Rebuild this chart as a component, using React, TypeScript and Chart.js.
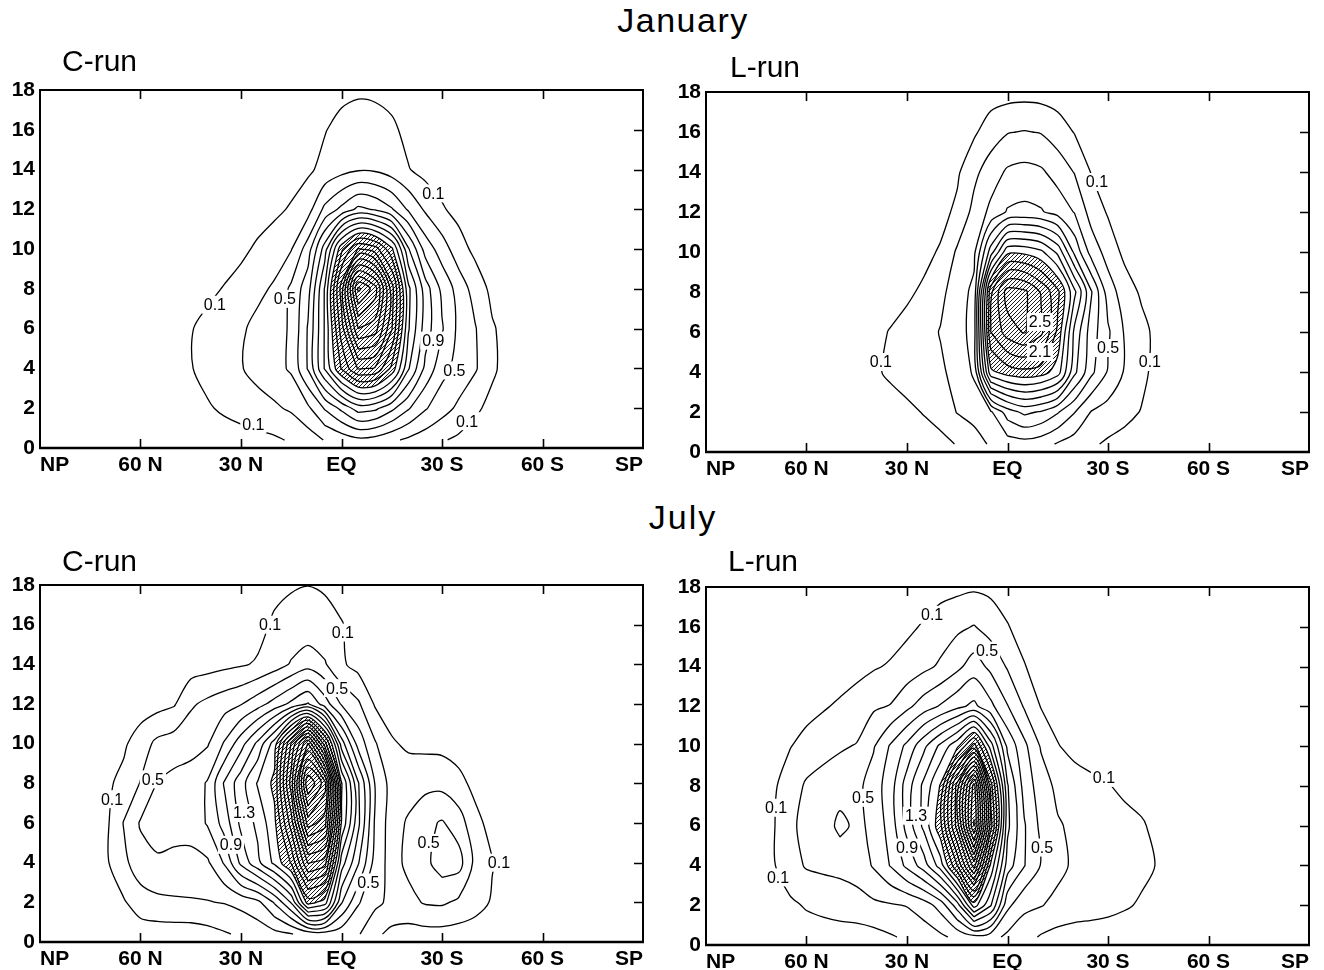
import React, { useEffect, useRef } from 'react';
import { Chart, registerables } from 'chart.js';

Chart.register(...registerables);
Chart.defaults.font.family = '"Liberation Sans", Arial, sans-serif';

// ---------- grid axes (latitude columns, height rows in km) ----------
const latitudes = [75, 70, 65, 60, 55, 50, 45, 40, 35, 30, 25, 20, 15, 10, 5, 0, -5, -10, -15, -20, -25, -30, -35, -40, -45, -50, -55];
const heights = [0.4, 2, 4, 6, 8, 10, 12, 14, 16, 18];
const contourLevels = [0.1, 0.3, 0.5, 0.7, 0.9, 1.1, 1.3, 1.5, 1.7, 1.9, 2.1, 2.3, 2.5, 2.7, 2.9, 3.1, 3.3, 3.5, 3.7, 3.9, 4.1, 4.3];
const hatchLevel = 1.9;
const latTicks = [90, 60, 30, 0, -30, -60, -90];
const latTickLabels = ['NP', '60 N', '30 N', 'EQ', '30 S', '60 S', 'SP'];
const heightTicks = [0, 2, 4, 6, 8, 10, 12, 14, 16, 18];

// ---------- January, C-run (rows = heights, cols = latitudes) ----------
const janCRun = [
  [0,0,0,0,0,0,0,0,0.01,0.02,0.04,0.07,0.12,0.2,0.31,0.38,0.45,0.42,0.34,0.26,0.19,0.12,0.06,0.02,0,0,0],
  [0,0,0,0,0,0.01,0.03,0.08,0.13,0.18,0.23,0.27,0.33,0.46,0.72,0.95,1.2,1.15,0.95,0.72,0.52,0.38,0.26,0.13,0.05,0.01,0],
  [0,0,0,0,0.01,0.03,0.09,0.16,0.22,0.29,0.36,0.43,0.53,0.92,1.52,2.12,2.52,2.48,2.05,1.32,0.85,0.57,0.43,0.32,0.13,0.03,0],
  [0,0,0,0,0.01,0.03,0.09,0.15,0.21,0.27,0.36,0.44,0.52,0.92,1.52,2.4,3.3,3.2,2.52,1.52,1.0,0.72,0.45,0.31,0.12,0.03,0],
  [0,0,0,0,0,0.01,0.02,0.06,0.11,0.17,0.25,0.33,0.54,0.82,1.52,2.6,3.95,3.6,2.6,1.55,1.0,0.65,0.42,0.21,0.05,0.01,0],
  [0,0,0,0,0,0,0,0.01,0.02,0.06,0.13,0.2,0.29,0.6,1.2,2.05,2.52,2.4,1.95,1.12,0.62,0.4,0.18,0.05,0.01,0,0],
  [0,0,0,0,0,0,0,0,0,0.01,0.02,0.06,0.12,0.22,0.55,0.75,0.95,0.88,0.72,0.47,0.27,0.12,0.04,0.01,0,0,0],
  [0,0,0,0,0,0,0,0,0,0,0,0.01,0.02,0.07,0.15,0.23,0.28,0.27,0.2,0.11,0.03,0.01,0,0,0,0,0],
  [0,0,0,0,0,0,0,0,0,0,0,0,0.01,0.02,0.09,0.16,0.2,0.19,0.14,0.04,0.01,0,0,0,0,0,0],
  [0,0,0,0,0,0,0,0,0,0,0,0,0,0,0.02,0.05,0.07,0.06,0.03,0.01,0,0,0,0,0,0,0],
];

// ---------- January, L-run ----------
const janLRun = [
  [0,0,0,0,0,0,0,0,0,0,0.02,0.05,0.11,0.2,0.33,0.4,0.42,0.38,0.28,0.2,0.13,0.07,0.03,0,0,0,0],
  [0,0,0,0,0,0,0,0,0.02,0.06,0.11,0.17,0.31,0.38,0.47,0.8,0.95,0.88,0.72,0.51,0.29,0.22,0.16,0.09,0.03,0,0],
  [0,0,0,0,0,0,0.02,0.07,0.13,0.18,0.22,0.27,0.36,0.53,1.85,2.0,2.05,2.0,1.8,1.15,0.75,0.48,0.28,0.15,0.03,0,0],
  [0,0,0,0,0,0,0.01,0.05,0.11,0.16,0.23,0.31,0.38,0.6,2.3,2.6,2.72,2.55,2.05,1.25,0.8,0.53,0.28,0.16,0.04,0,0],
  [0,0,0,0,0,0,0,0.01,0.02,0.07,0.13,0.25,0.4,0.55,2.25,2.8,2.75,2.48,2.15,1.55,0.92,0.4,0.2,0.07,0.01,0,0],
  [0,0,0,0,0,0,0,0,0,0.01,0.05,0.12,0.33,0.45,1.2,1.85,1.85,1.75,1.45,0.85,0.42,0.22,0.05,0,0,0,0],
  [0,0,0,0,0,0,0,0,0,0,0.01,0.04,0.14,0.36,0.55,0.72,0.75,0.72,0.62,0.49,0.22,0.08,0.01,0,0,0,0],
  [0,0,0,0,0,0,0,0,0,0,0,0.01,0.07,0.25,0.4,0.53,0.56,0.53,0.42,0.29,0.09,0.01,0,0,0,0,0],
  [0,0,0,0,0,0,0,0,0,0,0,0,0.01,0.07,0.2,0.29,0.31,0.29,0.2,0.09,0.01,0,0,0,0,0,0],
  [0,0,0,0,0,0,0,0,0,0,0,0,0,0,0.01,0.02,0.03,0.02,0,0,0,0,0,0,0,0,0],
];

// ---------- July, C-run ----------
const julCRun = [
  [0,0,0,0,0,0,0,0.03,0.08,0.13,0.18,0.24,0.29,0.38,0.42,0.38,0.32,0.14,0.05,0.03,0.03,0.03,0.02,0,0,0,0],
  [0,0.02,0.08,0.2,0.25,0.27,0.28,0.29,0.31,0.36,0.45,0.72,1.12,2.0,1.8,0.92,0.52,0.35,0.25,0.24,0.32,0.33,0.26,0.18,0.08,0.02,0],
  [0.02,0.08,0.25,0.42,0.48,0.46,0.45,0.47,0.72,1.15,1.45,1.75,2.12,2.92,2.8,1.4,0.92,0.42,0.22,0.35,0.45,0.6,0.58,0.24,0.11,0.02,0],
  [0.02,0.07,0.31,0.52,0.56,0.56,0.57,0.72,0.98,1.35,1.55,1.85,2.6,3.8,3.6,1.88,1.15,0.47,0.2,0.33,0.45,0.52,0.4,0.15,0.04,0,0],
  [0.01,0.07,0.15,0.31,0.51,0.56,0.58,0.72,1.12,1.42,1.72,1.95,3.0,4.5,4.0,1.92,1.12,0.49,0.22,0.2,0.24,0.24,0.15,0.05,0,0,0],
  [0,0.02,0.07,0.2,0.35,0.4,0.44,0.48,0.72,1.02,1.35,1.8,2.72,3.52,2.4,1.2,0.62,0.32,0.12,0.07,0.05,0.04,0.02,0,0,0,0],
  [0,0,0,0,0.03,0.08,0.27,0.35,0.42,0.49,0.62,0.78,0.95,1.12,0.8,0.48,0.33,0.08,0.02,0,0,0,0,0,0,0,0],
  [0,0,0,0,0,0,0,0.02,0.05,0.08,0.12,0.2,0.32,0.42,0.32,0.13,0.03,0,0,0,0,0,0,0,0,0,0],
  [0,0,0,0,0,0,0,0,0,0.01,0.04,0.13,0.16,0.17,0.16,0.11,0.03,0,0,0,0,0,0,0,0,0,0],
  [0,0,0,0,0,0,0,0,0,0,0,0.05,0.085,0.098,0.08,0.03,0,0,0,0,0,0,0,0,0,0,0],
];

// ---------- July, L-run ----------
const julLRun = [
  [0,0,0,0,0,0,0,0.03,0.08,0.13,0.19,0.26,0.35,0.43,0.38,0.25,0.17,0.08,0.03,0,0,0,0,0,0,0,0],
  [0,0.02,0.06,0.12,0.16,0.2,0.23,0.26,0.28,0.31,0.4,0.58,1.0,1.8,1.32,0.55,0.35,0.31,0.25,0.22,0.19,0.16,0.12,0.08,0.03,0,0],
  [0.02,0.08,0.22,0.32,0.34,0.35,0.38,0.52,0.71,0.95,1.2,1.6,2.3,3.2,1.85,1.0,0.71,0.49,0.35,0.27,0.24,0.21,0.18,0.14,0.09,0.02,0],
  [0.02,0.08,0.25,0.37,0.38,0.56,0.45,0.55,0.78,1.17,1.55,2.05,3.0,4.32,2.6,1.15,0.72,0.45,0.32,0.26,0.23,0.2,0.16,0.12,0.05,0,0],
  [0.01,0.07,0.19,0.33,0.38,0.4,0.44,0.6,0.8,1.2,1.55,1.92,3.0,4.2,2.4,1.12,0.62,0.4,0.25,0.19,0.15,0.11,0.06,0.03,0,0,0],
  [0,0.03,0.09,0.17,0.23,0.28,0.31,0.48,0.72,0.95,1.25,1.55,1.85,2.4,1.6,0.85,0.55,0.28,0.11,0.04,0,0,0,0,0,0,0],
  [0,0,0,0.03,0.08,0.13,0.2,0.27,0.31,0.45,0.6,0.72,0.85,0.95,0.75,0.51,0.28,0.09,0.02,0,0,0,0,0,0,0,0],
  [0,0,0,0,0,0,0.03,0.08,0.12,0.18,0.25,0.33,0.45,0.6,0.45,0.28,0.11,0.02,0,0,0,0,0,0,0,0,0],
  [0,0,0,0,0,0,0,0,0.01,0.06,0.12,0.2,0.26,0.31,0.22,0.11,0.03,0,0,0,0,0,0,0,0,0,0],
  [0,0,0,0,0,0,0,0,0,0,0,0.03,0.05,0.07,0.05,0.02,0,0,0,0,0,0,0,0,0,0,0],
];

// ---------- contour value labels: [latitude, height, text] ----------
const janCLabels: [number, number, string][] = [
  [37.8, 7.2, '0.1'], [26.3, 1.2, '0.1'], [16.9, 7.5, '0.5'], [-27.4, 12.8, '0.1'],
  [-27.4, 5.4, '0.9'], [-33.7, 3.9, '0.5'], [-37.5, 1.35, '0.1'],
];
const janLLabels: [number, number, string][] = [
  [37.8, 4.5, '0.1'], [-26.7, 13.5, '0.1'], [-9.7, 6.5, '2.5'], [-9.7, 5.0, '2.1'],
  [-30, 5.2, '0.5'], [-42.5, 4.5, '0.1'],
];
const julCLabels: [number, number, string][] = [
  [21.3, 16.0, '0.1'], [-0.4, 15.6, '0.1'], [1.3, 12.8, '0.5'], [56.3, 8.2, '0.5'],
  [68.5, 7.2, '0.1'], [29.1, 6.5, '1.3'], [33, 4.9, '0.9'], [-26, 5.0, '0.5'],
  [-47, 4.0, '0.1'], [-8, 3.0, '0.5'],
];
const julLLabels: [number, number, string][] = [
  [22.5, 16.6, '0.1'], [6.1, 14.8, '0.5'], [-28.8, 8.4, '0.1'], [43.1, 7.4, '0.5'],
  [69.1, 6.9, '0.1'], [27.3, 6.5, '1.3'], [30, 4.9, '0.9'], [-10.3, 4.9, '0.5'],
  [68.5, 3.4, '0.1'],
];

type P = { x: number; y: number };

// marching squares on the data grid; returns polylines in (lat, height) units
function traceContours(grid: number[][], level: number): P[][] {
  const nx = latitudes.length;
  const ny = heights.length;
  const pts = new Map<string, P>();
  const links = new Map<string, string[]>();
  const val = (i: number, j: number) => grid[j][i];
  const ensure = (key: string, i1: number, j1: number, i2: number, j2: number) => {
    if (pts.has(key)) return;
    const a = val(i1, j1);
    const b = val(i2, j2);
    const t = (level - a) / (b - a);
    pts.set(key, {
      x: latitudes[i1] + t * (latitudes[i2] - latitudes[i1]),
      y: heights[j1] + t * (heights[j2] - heights[j1]),
    });
  };
  const link = (k1: string, k2: string) => {
    if (!links.has(k1)) links.set(k1, []);
    if (!links.has(k2)) links.set(k2, []);
    links.get(k1)!.push(k2);
    links.get(k2)!.push(k1);
  };
  for (let j = 0; j < ny - 1; j++) {
    for (let i = 0; i < nx - 1; i++) {
      const va = val(i, j), vb = val(i + 1, j), vc = val(i + 1, j + 1), vd = val(i, j + 1);
      const ia = va >= level, ib = vb >= level, ic = vc >= level, id = vd >= level;
      const e: (string | null)[] = [null, null, null, null];
      if (ia !== ib) { e[0] = `h${i},${j}`; ensure(e[0], i, j, i + 1, j); }
      if (ib !== ic) { e[1] = `v${i + 1},${j}`; ensure(e[1], i + 1, j, i + 1, j + 1); }
      if (ic !== id) { e[2] = `h${i},${j + 1}`; ensure(e[2], i, j + 1, i + 1, j + 1); }
      if (id !== ia) { e[3] = `v${i},${j}`; ensure(e[3], i, j, i, j + 1); }
      const present = e.filter(Boolean) as string[];
      if (present.length === 2) link(present[0], present[1]);
      else if (present.length === 4) {
        const centre = (va + vb + vc + vd) / 4 >= level;
        if (centre === ia) { link(e[0]!, e[1]!); link(e[2]!, e[3]!); }
        else { link(e[3]!, e[0]!); link(e[1]!, e[2]!); }
      }
    }
  }
  const used = new Set<string>();
  const chains: P[][] = [];
  const walk = (start: string) => {
    const keys = [start];
    used.add(start);
    let cur = start;
    for (;;) {
      const nb = (links.get(cur) || []).find((k) => !used.has(k));
      if (!nb) break;
      used.add(nb);
      keys.push(nb);
      cur = nb;
    }
    const closed = keys.length > 2 && (links.get(cur) || []).includes(start);
    const out = keys.map((k) => pts.get(k)!);
    if (closed) out.push({ ...out[0] });
    chains.push(out);
  };
  for (const [k, nb] of links) if (nb.length === 1 && !used.has(k)) walk(k);
  for (const k of links.keys()) if (!used.has(k)) walk(k);
  return chains;
}

function makeHatch(ctx: CanvasRenderingContext2D): CanvasPattern | string {
  const c = document.createElement('canvas');
  c.width = 4;
  c.height = 4;
  const g = c.getContext('2d');
  if (!g) return '#888';
  g.strokeStyle = '#000';
  g.lineWidth = 0.9;
  g.beginPath();
  g.moveTo(-1, 5); g.lineTo(5, -1);
  g.moveTo(-1, 1); g.lineTo(1, -1);
  g.moveTo(3, 5); g.lineTo(5, 3);
  g.stroke();
  return ctx.createPattern(c, 'repeat') || '#888';
}

type Box = { left: number; top: number; width: number; height: number };
type Area = { left: number; top: number; right: number; bottom: number };

interface PanelDef {
  grid: number[][];
  labels: [number, number, string][];
  canvas: Box;
  plot: Area;
}

const panels: PanelDef[] = [
  { grid: janCRun, labels: janCLabels, canvas: { left: 0, top: 66, width: 662, height: 416 }, plot: { left: 40, top: 90, right: 643, bottom: 448 } },
  { grid: janLRun, labels: janLLabels, canvas: { left: 664, top: 68, width: 660, height: 418 }, plot: { left: 706, top: 92, right: 1309, bottom: 452 } },
  { grid: julCRun, labels: julCLabels, canvas: { left: 0, top: 561, width: 662, height: 409 }, plot: { left: 40, top: 585, right: 643, bottom: 942 } },
  { grid: julLRun, labels: julLLabels, canvas: { left: 664, top: 563, width: 660, height: 407 }, plot: { left: 706, top: 587, right: 1309, bottom: 945 } },
];

const tickFont = { size: 21, weight: 'bold' as const, family: '"Liberation Sans", Arial, sans-serif' };

function ContourPanel({ def }: { def: PanelDef }) {
  const ref = useRef<HTMLCanvasElement>(null);
  useEffect(() => {
    const canvas = ref.current;
    if (!canvas) return;
    const datasets: any[] = [];
    for (const level of contourLevels) {
      for (const chain of traceContours(def.grid, level)) {
        if (chain.length < 2) continue;
        const first = chain[0];
        const last = chain[chain.length - 1];
        const closed = chain.length > 3 && first.x === last.x && first.y === last.y;
        datasets.push({
          data: chain,
          borderColor: '#000',
          borderWidth: 1.3,
          pointRadius: 0,
          pointHoverRadius: 0,
          tension: 0.3,
          fill: false,
          hatch: level === hatchLevel && closed,
        });
      }
    }

    const hatchFill = {
      id: 'hatchFill',
      beforeDatasetsDraw(chart: any) {
        const ctx: CanvasRenderingContext2D = chart.ctx;
        const a = chart.chartArea;
        const pattern = makeHatch(ctx);
        ctx.save();
        ctx.beginPath();
        ctx.rect(a.left, a.top, a.right - a.left, a.bottom - a.top);
        ctx.clip();
        chart.data.datasets.forEach((ds: any, i: number) => {
          if (!ds.hatch) return;
          const line = chart.getDatasetMeta(i).dataset;
          ctx.beginPath();
          if (line && typeof line.path === 'function') {
            if (typeof line.updateControlPoints === 'function') line.updateControlPoints(a, 'x');
            line.path(ctx);
          } else {
            ds.data.forEach((p: P, k: number) => {
              const px = chart.scales.x.getPixelForValue(p.x);
              const py = chart.scales.y.getPixelForValue(p.y);
              if (k === 0) ctx.moveTo(px, py); else ctx.lineTo(px, py);
            });
          }
          ctx.closePath();
          ctx.fillStyle = pattern as any;
          ctx.fill();
        });
        ctx.restore();
      },
    };

    const frame = {
      id: 'frameTicks',
      afterDraw(chart: any) {
        const ctx: CanvasRenderingContext2D = chart.ctx;
        const a = chart.chartArea;
        const xs = chart.scales.x;
        const ys = chart.scales.y;
        ctx.save();
        ctx.strokeStyle = '#000';
        ctx.lineWidth = 2;
        ctx.strokeRect(a.left, a.top, a.right - a.left, a.bottom - a.top);
        ctx.lineWidth = 2.6;
        ctx.beginPath();
        ctx.moveTo(a.left - 1, a.bottom);
        ctx.lineTo(a.right + 1, a.bottom);
        ctx.stroke();
        ctx.lineWidth = 1.6;
        ctx.beginPath();
        for (const t of latTicks) {
          if (t === 90 || t === -90) continue;
          const px = Math.round(xs.getPixelForValue(t)) + 0.5;
          ctx.moveTo(px, a.bottom); ctx.lineTo(px, a.bottom - 9);
          ctx.moveTo(px, a.top); ctx.lineTo(px, a.top + 9);
        }
        for (const h of heightTicks) {
          if (h === 0 || h === 18) continue;
          const py = Math.round(ys.getPixelForValue(h)) + 0.5;
          ctx.moveTo(a.right, py); ctx.lineTo(a.right - 9, py);
        }
        ctx.stroke();
        ctx.restore();
      },
    };

    const valueLabels = {
      id: 'valueLabels',
      afterDatasetsDraw(chart: any) {
        const ctx: CanvasRenderingContext2D = chart.ctx;
        const xs = chart.scales.x;
        const ys = chart.scales.y;
        ctx.save();
        ctx.font = '16px "Liberation Sans", Arial, sans-serif';
        ctx.textAlign = 'center';
        ctx.textBaseline = 'middle';
        for (const [lat, z, text] of def.labels) {
          const px = xs.getPixelForValue(lat);
          const py = ys.getPixelForValue(z);
          const w = ctx.measureText(text).width;
          ctx.fillStyle = '#fff';
          ctx.fillRect(px - w / 2 - 2, py - 9, w + 4, 18);
          ctx.fillStyle = '#000';
          ctx.fillText(text, px, py + 1);
        }
        ctx.restore();
      },
    };

    const chart = new Chart(canvas, {
      type: 'line',
      data: { datasets },
      options: {
        responsive: false,
        animation: false,
        devicePixelRatio: 1,
        events: [],
        layout: { padding: { left: 0, top: 0, right: 0, bottom: 0 } },
        plugins: { legend: { display: false }, tooltip: { enabled: false }, title: { display: false } },
        scales: {
          x: {
            type: 'linear',
            min: -90,
            max: 90,
            reverse: true,
            grid: { display: false, drawTicks: false, tickLength: 0 },
            border: { display: false },
            afterBuildTicks: (s: any) => {
              s.ticks = [...latTicks].sort((p, q) => p - q).map((v) => ({ value: v }));
            },
            ticks: {
              autoSkip: false,
              maxRotation: 0,
              align: 'inner',
              padding: 5,
              color: '#000',
              font: tickFont,
              callback: (v: any) => latTickLabels[latTicks.indexOf(Number(v))] ?? '',
            },
          },
          y: {
            type: 'linear',
            min: 0,
            max: 18,
            grid: { display: false, drawTicks: false, tickLength: 0 },
            border: { display: false },
            afterBuildTicks: (s: any) => {
              s.ticks = heightTicks.map((v) => ({ value: v }));
            },
            ticks: { autoSkip: false, padding: 5, color: '#000', font: tickFont },
          },
        },
      } as any,
      plugins: [hatchFill, valueLabels, frame],
    });

    // align the plot area with the reference frame (iterate: label overflow and padding combine via max)
    const want = {
      left: def.plot.left - def.canvas.left,
      top: def.plot.top - def.canvas.top,
      right: def.plot.right - def.canvas.left,
      bottom: def.plot.bottom - def.canvas.top,
    };
    const pad = { left: 0, top: 0, right: 0, bottom: 0 };
    for (let it = 0; it < 4; it++) {
      const a = chart.chartArea;
      pad.left += want.left - a.left;
      pad.top += want.top - a.top;
      pad.right += a.right - want.right;
      pad.bottom += a.bottom - want.bottom;
      (chart.options as any).layout.padding = { ...pad };
      chart.update();
    }

    return () => chart.destroy();
  }, [def]);

  return (
    <canvas
      ref={ref}
      width={def.canvas.width}
      height={def.canvas.height}
      style={{ position: 'absolute', left: def.canvas.left, top: def.canvas.top, width: def.canvas.width, height: def.canvas.height }}
    />
  );
}

const textBase: React.CSSProperties = {
  position: 'absolute',
  fontFamily: '"Liberation Sans", Arial, sans-serif',
  color: '#000',
  lineHeight: 1,
  whiteSpace: 'nowrap',
};

export default function App() {
  return (
    <div style={{ position: 'absolute', left: 0, top: 0, width: 1324, height: 970, background: '#fff', overflow: 'hidden' }}>
      {panels.map((p, i) => (
        <ContourPanel key={i} def={p} />
      ))}
      <div style={{ ...textBase, fontSize: 34, letterSpacing: 1.5, left: 0, width: 1366, top: 3, textAlign: 'center' }}>January</div>
      <div style={{ ...textBase, fontSize: 34, letterSpacing: 2, left: 0, width: 1366, top: 500, textAlign: 'center' }}>July</div>
      <div style={{ ...textBase, fontSize: 30, left: 62, top: 46 }}>C-run</div>
      <div style={{ ...textBase, fontSize: 30, left: 730, top: 52 }}>L-run</div>
      <div style={{ ...textBase, fontSize: 30, left: 62, top: 546 }}>C-run</div>
      <div style={{ ...textBase, fontSize: 30, left: 728, top: 546 }}>L-run</div>
    </div>
  );
}
